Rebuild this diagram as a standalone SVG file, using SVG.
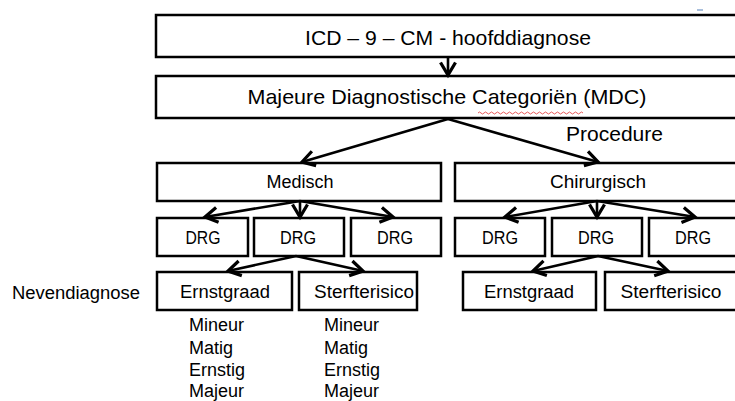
<svg xmlns="http://www.w3.org/2000/svg" width="735" height="401" viewBox="0 0 735 401">
<style>
.box{fill:#fff;stroke:#000;stroke-width:2.5}
.t{font-family:"Liberation Sans",Arial,sans-serif;fill:#000;text-anchor:middle}
.big{font-size:21px}
.mid{font-size:18px}
.l{text-anchor:start}
.c{stroke:#000;stroke-width:2.6;fill:none}
</style>
<defs>
<marker id="ah" markerUnits="userSpaceOnUse" markerWidth="20" markerHeight="20" refX="0" refY="0" viewBox="-12 -8 14 16" orient="auto" overflow="visible">
<path d="M-10,-6 L0,0 L-10,6" fill="none" stroke="#000" stroke-width="2.6"/>
</marker>
</defs>
<rect width="735" height="401" fill="#fff"/>
<rect x="697" y="9" width="6" height="2" fill="#a9bfdc"/>

<g id="icd"><rect class="box" x="156" y="15" width="590" height="42"/><text class="t big" x="448" y="45" textLength="286" lengthAdjust="spacingAndGlyphs">ICD – 9 – CM - hoofddiagnose</text></g>
<g id="mdc"><rect class="box" x="156" y="76" width="590" height="42"/><text class="t big" x="447" y="104" textLength="399" lengthAdjust="spacingAndGlyphs">Majeure Diagnostische Categoriën (MDC)</text>
<path d="M478,113 q1.5,-2 3,0 t3,0 t3,0 t3,0 t3,0 t3,0 t3,0 t3,0 t3,0 t3,0 t3,0 t3,0 t3,0 t3,0 t3,0 t3,0 t3,0 t3,0 t3,0 t3,0 t3,0 t3,0 t3,0 t3,0 t3,0 t3,0 t3,0 t3,0 t3,0 t3,0 t3,0 t3,0 t3,0 t3,0 t3,0" fill="none" stroke="#e03030" stroke-width="0.8"/></g>
<g id="procedure"><text class="t big l" x="566" y="141" textLength="97" lengthAdjust="spacingAndGlyphs">Procedure</text></g>

<g id="medisch"><rect class="box" x="157" y="163" width="284" height="38"/><text class="t mid" x="300" y="188" textLength="67" lengthAdjust="spacingAndGlyphs">Medisch</text></g>
<g id="chirurgisch"><rect class="box" x="455" y="163" width="290" height="38"/><text class="t mid" x="598" y="188" textLength="96" lengthAdjust="spacingAndGlyphs">Chirurgisch</text></g>

<g id="drg1"><rect class="box" x="157" y="218" width="91" height="38"/><text class="t mid" x="203" y="244" textLength="35" lengthAdjust="spacingAndGlyphs">DRG</text></g>
<g id="drg2"><rect class="box" x="254" y="218" width="90" height="38"/><text class="t mid" x="298" y="244" textLength="36" lengthAdjust="spacingAndGlyphs">DRG</text></g>
<g id="drg3"><rect class="box" x="351" y="218" width="90" height="38"/><text class="t mid" x="395" y="244" textLength="36" lengthAdjust="spacingAndGlyphs">DRG</text></g>
<g id="drg4"><rect class="box" x="455" y="218" width="90" height="38"/><text class="t mid" x="500" y="244" textLength="36" lengthAdjust="spacingAndGlyphs">DRG</text></g>
<g id="drg5"><rect class="box" x="552" y="218" width="90" height="38"/><text class="t mid" x="596" y="244" textLength="36" lengthAdjust="spacingAndGlyphs">DRG</text></g>
<g id="drg6"><rect class="box" x="649" y="218" width="96" height="38"/><text class="t mid" x="693" y="244" textLength="36" lengthAdjust="spacingAndGlyphs">DRG</text></g>

<g id="nevendiagnose"><text class="t mid l" x="12" y="299" textLength="128" lengthAdjust="spacingAndGlyphs">Nevendiagnose</text></g>
<g id="ernst1"><rect class="box" x="157" y="272" width="135" height="38"/><text class="t mid" x="225" y="298" textLength="90" lengthAdjust="spacingAndGlyphs">Ernstgraad</text></g>
<g id="sterf1"><rect class="box" x="299" y="272" width="118" height="38"/><text class="t mid" x="364" y="298" textLength="100" lengthAdjust="spacingAndGlyphs">Sterfterisico</text></g>
<g id="ernst2"><rect class="box" x="463" y="272" width="133" height="38"/><text class="t mid" x="529" y="298" textLength="90" lengthAdjust="spacingAndGlyphs">Ernstgraad</text></g>
<g id="sterf2"><rect class="box" x="605" y="272" width="140" height="38"/><text class="t mid" x="671" y="298" textLength="101" lengthAdjust="spacingAndGlyphs">Sterfterisico</text></g>

<g id="list1">
<text class="t mid l" x="189" y="331">Mineur</text>
<text class="t mid l" x="189" y="354">Matig</text>
<text class="t mid l" x="189" y="376">Ernstig</text>
<text class="t mid l" x="189" y="397">Majeur</text>
</g>
<g id="list2">
<text class="t mid l" x="324" y="331">Mineur</text>
<text class="t mid l" x="324" y="354">Matig</text>
<text class="t mid l" x="324" y="376">Ernstig</text>
<text class="t mid l" x="324" y="397">Majeur</text>
</g>

<g id="connectors">
<line class="c" x1="448" y1="57" x2="448" y2="75" marker-end="url(#ah)"/>
<line class="c" x1="448" y1="119" x2="302" y2="162" marker-end="url(#ah)"/>
<line class="c" x1="448" y1="119" x2="598" y2="162" marker-end="url(#ah)"/>
<line class="c" x1="300" y1="201" x2="205" y2="217" marker-end="url(#ah)"/>
<line class="c" x1="300" y1="201" x2="300" y2="217" marker-end="url(#ah)"/>
<line class="c" x1="300" y1="201" x2="393" y2="217" marker-end="url(#ah)"/>
<line class="c" x1="597" y1="201" x2="505" y2="217" marker-end="url(#ah)"/>
<line class="c" x1="597" y1="201" x2="597" y2="217" marker-end="url(#ah)"/>
<line class="c" x1="597" y1="201" x2="695" y2="217" marker-end="url(#ah)"/>
<line class="c" x1="296" y1="256" x2="228" y2="271" marker-end="url(#ah)"/>
<line class="c" x1="296" y1="256" x2="363" y2="271" marker-end="url(#ah)"/>
<line class="c" x1="598" y1="256" x2="533" y2="271" marker-end="url(#ah)"/>
<line class="c" x1="598" y1="256" x2="668" y2="271" marker-end="url(#ah)"/>
</g>
</svg>
